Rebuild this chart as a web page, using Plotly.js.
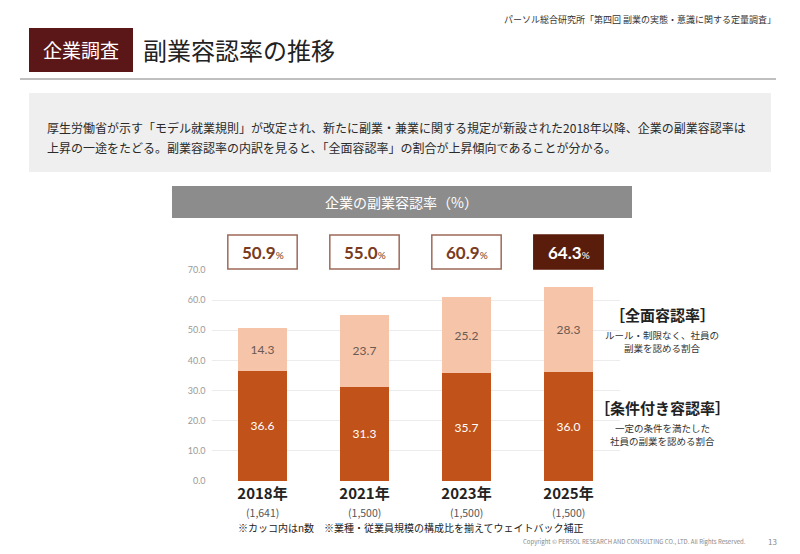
<!DOCTYPE html>
<html lang="ja">
<head>
<meta charset="utf-8">
<script src="https://cdn.plot.ly/plotly-3.0.1.min.js"></script>
<style>
  html, body { margin: 0; padding: 0; background: #fff; }
  #chart { width: 800px; height: 554px; }
</style>
</head>
<body>
<div id="chart"></div>
<script>
// Survey years, sample sizes and the two components of the side-job approval rate (%)
const years = ['2018年', '2021年', '2023年', '2025年'];
const sampleN = ['(1,641)', '(1,500)', '(1,500)', '(1,500)'];
const conditional = [36.6, 31.3, 35.7, 36.0];   // 条件付き容認率
const unrestricted = [14.3, 23.7, 25.2, 28.3];  // 全面容認率
const yTickVals = [0, 10, 20, 30, 40, 50, 60, 70];

const W = 800, H = 554;
const JP = '"Noto Sans CJK JP", "Noto Sans", sans-serif';
const NUM = 'Lato, "Noto Sans CJK JP", sans-serif';
const px = x => x / W;          // pixel -> paper x
const py = y => 1 - y / H;      // pixel -> paper y

const DARK = '#c0521a';
const LIGHT = '#f6c4a9';
const BROWN = '#7a3b22';
const BORDER = '#9e6a58';
const LAST_FILL = '#5a1d0b';

const totals = conditional.map((c, i) => +(c + unrestricted[i]).toFixed(1));

const traces = [
  {
    type: 'bar', name: '条件付き容認率', x: years, y: conditional,
    marker: { color: DARK },
    text: conditional.map(v => v.toFixed(1)), textposition: 'inside',
    insidetextanchor: 'middle', constraintext: 'none', textangle: 0,
    textfont: { family: NUM, size: 12, color: '#ffffff' },
    hoverinfo: 'skip'
  },
  {
    type: 'bar', name: '全面容認率', x: years, y: unrestricted,
    marker: { color: LIGHT },
    text: unrestricted.map(v => v.toFixed(1)), textposition: 'inside',
    insidetextanchor: 'middle', constraintext: 'none', textangle: 0,
    textfont: { family: NUM, size: 12, color: '#6b5a52' },
    hoverinfo: 'skip'
  }
];

const shapes = [
  // page header
  { type: 'rect', xref: 'paper', yref: 'paper', x0: px(29), x1: px(133), y0: py(72), y1: py(28),
    fillcolor: '#5b1717', line: { width: 0 } },
  { type: 'line', xref: 'paper', yref: 'paper', x0: px(20), x1: px(776), y0: py(79), y1: py(79),
    line: { color: '#808080', width: 1 } },
  // description panel
  { type: 'rect', xref: 'paper', yref: 'paper', x0: px(29), x1: px(771), y0: py(172), y1: py(93),
    fillcolor: '#efefef', line: { width: 0 } },
  // chart title bar
  { type: 'rect', xref: 'paper', yref: 'paper', x0: px(172), x1: px(632), y0: py(218), y1: py(186),
    fillcolor: '#8c8c8c', line: { width: 0 } }
];

const note = (x, y, text, size, color, anchor, weightBold) => ({
  xref: 'paper', yref: 'paper', x: px(x), y: py(y), showarrow: false,
  text: weightBold ? '<b>' + text + '</b>' : text,
  font: { family: JP, size: size, color: color },
  xanchor: anchor, yanchor: 'middle'
});

const annotations = [
  note(81, 50, '企業調査', 19, '#ffffff', 'center'),
  note(141, 50, '副業容認率の推移', 24, '#222222', 'left'),
  note(778, 19, 'パーソル総合研究所「第四回 副業の実態・意識に関する定量調査」', 9, '#333333', 'right'),
  note(45, 127, '厚生労働省が示す「モデル就業規則」が改定され、新たに副業・兼業に関する規定が新設された2018年以降、企業の副業容認率は', 12, '#2a2a2a', 'left'),
  note(45, 147, '上昇の一途をたどる。副業容認率の内訳を見ると、「全面容認率」の割合が上昇傾向であることが分かる。', 12, '#2a2a2a', 'left'),
  note(402, 202, '企業の副業容認率（%）', 14, '#ffffff', 'center'),
  // descriptions of the two stacked series, to the right of the plot
  note(662, 314, '［全面容認率］', 15, '#222222', 'center', true),
  note(662, 335, 'ルール・制限なく、社員の', 9.5, '#333333', 'center'),
  note(662, 348, '副業を認める割合', 9.5, '#333333', 'center'),
  note(662, 407, '［条件付き容認率］', 15, '#222222', 'center', true),
  note(662, 428, '一定の条件を満たした', 9.5, '#333333', 'center'),
  note(662, 441, '社員の副業を認める割合', 9.5, '#333333', 'center'),
  // footnotes
  note(236, 527, '※カッコ内はn数　※業種・従業員規模の構成比を揃えてウェイトバック補正', 10, '#222222', 'left'),
  note(748, 541, 'Copyright © PERSOL RESEARCH AND CONSULTING CO., LTD. All Rights Reserved.', 6, '#888888', 'right'),
  note(772, 541, '13', 8, '#888888', 'center')
];

// total boxes above each bar and sample sizes under the year labels
years.forEach((yr, i) => {
  const last = i === years.length - 1;
  shapes.push({
    type: 'rect', xref: 'x', yref: 'paper', x0: i - 0.34, x1: i + 0.34, y0: py(269), y1: py(235),
    fillcolor: last ? LAST_FILL : '#ffffff', line: { color: last ? LAST_FILL : BORDER, width: 1.5 }
  });
  annotations.push({
    xref: 'x', yref: 'paper', x: yr, y: py(252), showarrow: false,
    text: '<b>' + totals[i].toFixed(1) + '</b><span style="font-size:10px">%</span>',
    font: { family: NUM, size: 17, color: last ? '#ffffff' : BROWN },
    xanchor: 'center', yanchor: 'middle'
  });
  annotations.push({
    xref: 'x', yref: 'paper', x: yr, y: py(512), showarrow: false, text: sampleN[i],
    font: { family: JP, size: 10.5, color: '#555555' }, xanchor: 'center', yanchor: 'middle'
  });
});

const layout = {
  width: W, height: H,
  margin: { l: 0, r: 0, t: 0, b: 0 },
  paper_bgcolor: '#ffffff', plot_bgcolor: '#ffffff',
  barmode: 'stack', bargap: 0.52,
  showlegend: false,
  font: { family: JP },
  xaxis: {
    domain: [px(211.5), px(619.5)],
    type: 'category', categoryarray: years,
    tickvals: years, ticktext: years.map(y => '<b>' + y + '</b>'),
    tickfont: { family: JP, size: 15, color: '#222222' },
    ticks: '', ticklabelstandoff: 2, showline: false, showgrid: false, zeroline: false,
    fixedrange: true
  },
  yaxis: {
    domain: [py(481), py(270)],
    range: [0, 70], tickvals: yTickVals, tickformat: '.1f',
    tickfont: { family: NUM, size: 9, color: '#9a9a9a' },
    ticks: '', ticklabelstandoff: 5,
    showgrid: true, gridcolor: '#ececec', gridwidth: 1.2,
    zeroline: false, showline: false, fixedrange: true
  },
  shapes: shapes,
  annotations: annotations
};

Plotly.newPlot('chart', traces, layout, { displayModeBar: false, staticPlot: true });
</script>
</body>
</html>
